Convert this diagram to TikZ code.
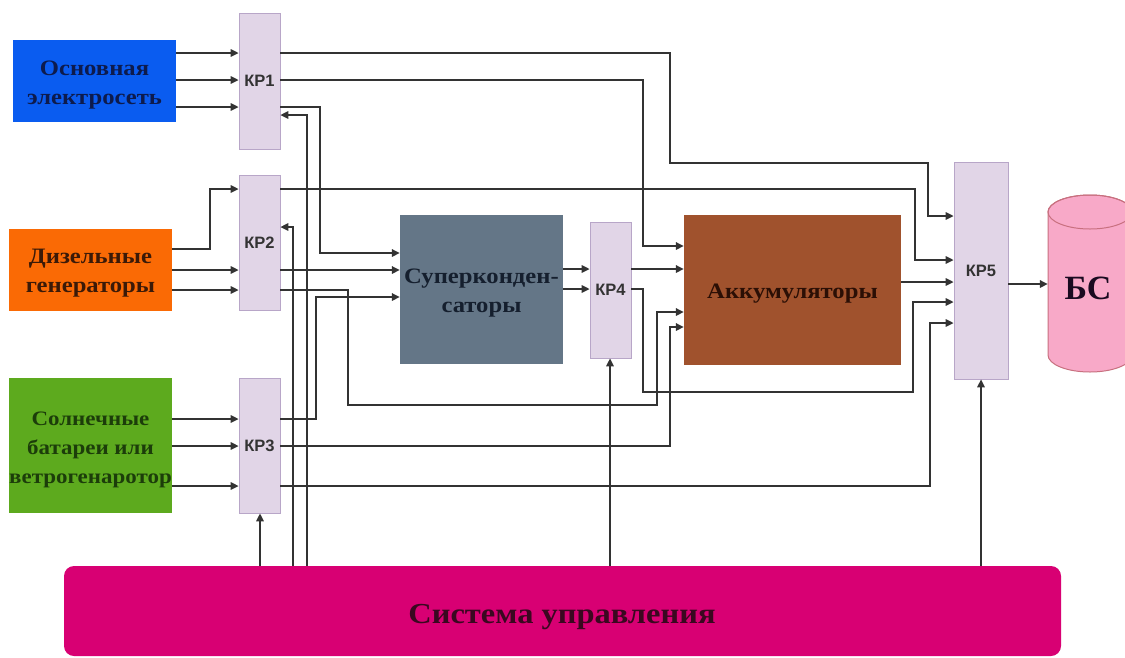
\documentclass[tikz,border=0pt]{standalone}
\usepackage{fontspec}
\setmainfont{Liberation Serif}
\newfontfamily\lblfont[FakeStretch=1.12]{Liberation Serif}
\newfontfamily\kpfont{Liberation Sans}
\usetikzlibrary{arrows.meta}
\definecolor{linec}{HTML}{333333}
\definecolor{kpfill}{HTML}{E1D5E7}
\definecolor{kpdraw}{HTML}{B8A6C8}
\definecolor{kptext}{HTML}{333333}
\definecolor{cblue}{HTML}{0A5CF0}
\definecolor{corange}{HTML}{FA6A05}
\definecolor{cgreen}{HTML}{5DAA1E}
\definecolor{cslate}{HTML}{647687}
\definecolor{cbrown}{HTML}{A0522D}
\definecolor{cmag}{HTML}{D80073}
\definecolor{cpink}{HTML}{F8A9C8}
\definecolor{cpinkd}{HTML}{C8707F}
\definecolor{tblue}{HTML}{0D1B4D}
\definecolor{torange}{HTML}{3B1A08}
\definecolor{tgreen}{HTML}{1C3D0A}
\definecolor{tslate}{HTML}{151F2E}
\definecolor{tbrown}{HTML}{2B0F05}
\definecolor{tmag}{HTML}{3A0820}
\definecolor{tbs}{HTML}{1A0A20}
\begin{document}
\begin{tikzpicture}[x=1pt,y=-1pt,
  conn/.style={draw=linec, line width=1.6pt, -{Triangle[length=8pt,width=7.5pt]}},
  kp/.style={draw=kpdraw, fill=kpfill, line width=0.8pt, minimum width=41pt, inner sep=0pt,
    font=\kpfont\bfseries\fontsize{16.5}{16.5}\selectfont, text=kptext},
  blk/.style={inner sep=0pt},
  lbl/.style={inner sep=0pt, align=center, font=\lblfont\bfseries\fontsize{22}{29}\selectfont}
]
\useasboundingbox (0,0) rectangle (1125,657);
\fill[white] (0,0) rectangle (1125,657);

% sources
\node[blk, fill=cblue, minimum width=163pt, minimum height=82pt] (src1) at (94.5,81) {};
\node[lbl, text=tblue] (src1t) at ([yshift=-4pt]src1.center) {Основная\\электросеть};
\node[blk, fill=corange, minimum width=163pt, minimum height=82pt] (src2) at (90.5,270) {};
\node[lbl, text=torange] (src2t) at ([yshift=-3pt]src2.center) {Дизельные\\генераторы};
\node[blk, fill=cgreen, minimum width=163pt, minimum height=135pt] (src3) at (90.5,445.5) {};
\node[lbl, text=tgreen, font=\lblfont\bfseries\fontsize{20.5}{29}\selectfont] (src3t) at ([yshift=-4pt]src3.center) {Солнечные\\батареи или\\ветрогенаротор};

% switches
\node[kp, minimum height=136pt] (kp1) at (259.5,81) {КР1};
\node[kp, minimum height=135pt] (kp2) at (259.5,242.5) {КР2};
\node[kp, minimum height=135pt] (kp3) at (259.5,445.5) {КР3};
\node[kp, minimum height=136pt] (kp4) at (610.5,290) {КР4};
\node[kp, minimum width=54pt, minimum height=217pt] (kp5) at (981,270.5) {КР5};

% storage
\node[blk, fill=cslate, minimum width=163pt, minimum height=149pt] (sc) at (481.5,289.5) {};
\node[lbl, text=tslate] (sct) at ([yshift=-4pt]sc.center) {Суперконден-\\саторы};
\node[blk, fill=cbrown, minimum width=217pt, minimum height=150pt] (acc) at (792.5,290) {};
\node[lbl, text=tbrown] (acct) at ([yshift=-4pt]acc.center) {Аккумуляторы};

% base station cylinder
\node[inner sep=0pt, minimum width=84pt, minimum height=177pt] (bs) at (1090,283.5) {};
\path[fill=cpink, draw=cpinkd, line width=1pt] (1048,212) -- (1048,355)
  arc[start angle=180, end angle=360, x radius=42pt, y radius=17pt] -- (1132,212)
  arc[start angle=0, end angle=180, x radius=42pt, y radius=17pt] -- cycle;
\draw[cpinkd, line width=1pt] (1090,212) ellipse [x radius=42pt, y radius=17pt];
\node[font=\bfseries\fontsize{34}{34}\selectfont, text=tbs] (bst) at (1088,288) {БС};

% control system
\node[fill=cmag, rounded corners=10pt, minimum width=997pt, minimum height=90pt, inner sep=0pt] (ctl) at (562.5,611) {};
\node[font=\lblfont\bfseries\fontsize{29}{29}\selectfont, text=tmag] (ctlt) at (562,617) {Система управления};

% inputs to switches
\draw[conn] (src1.east|-0,53) -- (kp1.west|-0,53);
\draw[conn] (src1.east|-0,80) -- (kp1.west|-0,80);
\draw[conn] (src1.east|-0,107) -- (kp1.west|-0,107);
\draw[conn] (src2.east|-0,249) -- (210,249) -- (210,189) -- (kp2.west|-0,189);
\draw[conn] (src2.east|-0,270) -- (kp2.west|-0,270);
\draw[conn] (src2.east|-0,290) -- (kp2.west|-0,290);
\draw[conn] (src3.east|-0,419) -- (kp3.west|-0,419);
\draw[conn] (src3.east|-0,446) -- (kp3.west|-0,446);
\draw[conn] (src3.east|-0,486) -- (kp3.west|-0,486);

% KP1 outputs
\draw[conn] (kp1.east|-0,53) -- (670,53) -- (670,163) -- (928,163) -- (928,216) -- (kp5.west|-0,216);
\draw[conn] (kp1.east|-0,80) -- (643,80) -- (643,246) -- (acc.west|-0,246);
\draw[conn] (kp1.east|-0,107) -- (320,107) -- (320,253) -- (sc.west|-0,253);
% KP2 outputs
\draw[conn] (kp2.east|-0,189) -- (915,189) -- (915,260) -- (kp5.west|-0,260);
\draw[conn] (kp2.east|-0,270) -- (sc.west|-0,270);
\draw[conn] (kp2.east|-0,290) -- (348,290) -- (348,405) -- (657,405) -- (657,312) -- (acc.west|-0,312);
% KP3 outputs
\draw[conn] (kp3.east|-0,419) -- (316,419) -- (316,297) -- (sc.west|-0,297);
\draw[conn] (kp3.east|-0,446) -- (670,446) -- (670,327) -- (acc.west|-0,327);
\draw[conn] (kp3.east|-0,486) -- (930,486) -- (930,323) -- (kp5.west|-0,323);
% supercaps and KP4
\draw[conn] (sc.east|-0,269) -- (kp4.west|-0,269);
\draw[conn] (sc.east|-0,289) -- (kp4.west|-0,289);
\draw[conn] (kp4.east|-0,269) -- (acc.west|-0,269);
\draw[conn] (kp4.east|-0,289) -- (643,289) -- (643,392) -- (913,392) -- (913,302) -- (kp5.west|-0,302);
% accumulators to KP5, KP5 to BS
\draw[conn] (acc.east|-0,282) -- (kp5.west|-0,282);
\draw[conn] (kp5.east|-0,284) -- (bs.west|-0,284);

% control lines
\draw[conn] (ctl.north-|260,0) -- (kp3.south-|260,0);
\draw[conn] (ctl.north-|293,0) -- (293,227) -- (kp2.east|-0,227);
\draw[conn] (ctl.north-|307,0) -- (307,115) -- (kp1.east|-0,115);
\draw[conn] (ctl.north-|610,0) -- (kp4.south-|610,0);
\draw[conn] (ctl.north-|kp5.south) -- (kp5.south);
\end{tikzpicture}
\end{document}
